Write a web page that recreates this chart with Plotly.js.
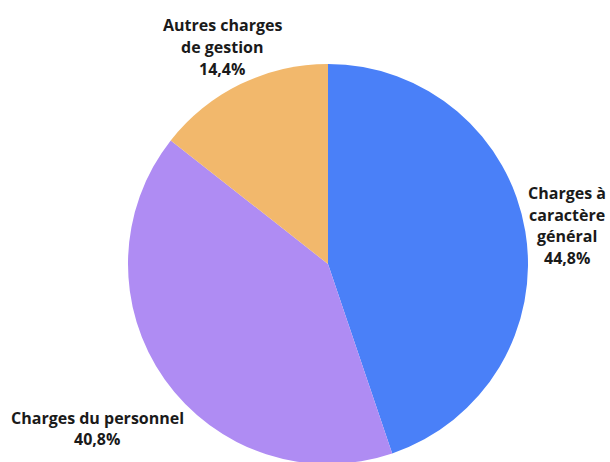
<!DOCTYPE html>
<html><head><meta charset="utf-8">
<script src="https://cdn.plot.ly/plotly-3.0.1.min.js"></script>
<style>html,body{margin:0;padding:0;overflow:hidden;background:#fff}</style>
</head><body><div id="chart"></div>
<script>
const categories = ["Charges à caractère général", "Charges du personnel", "Autres charges de gestion"];
const labelLines = [["Charges à", "caractère", "général"], ["Charges du personnel"], ["Autres charges", "de gestion"]];
const values = [44.8, 40.8, 14.4];
const pctText = ["44,8%", "40,8%", "14,4%"];
const colors = ["#4A80F8", "#AF8CF3", "#F2B86C"];

const W = 610, H = 464;
// label anchor (px): center x, center y of first line, line spacing
const labelPos = [[567, 193, 21.6], [97, 418, 21], [222, 24.5, 22.5]];

const annotations = [];
labelLines.forEach((lines, i) => {
  const all = lines.concat([pctText[i]]);
  const [cx, cy, dy] = labelPos[i];
  all.forEach((t, k) => {
    annotations.push({
      text: "<b>" + t + "</b>", showarrow: false,
      xref: "paper", yref: "paper",
      x: cx / W, y: 1 - (cy + k * dy) / H,
      xanchor: "center", yanchor: "middle",
      font: {family: "Open Sans", size: 16, color: "#1a1a1a"}
    });
  });
});

Plotly.newPlot("chart", [{
  type: "pie",
  labels: categories,
  values: values,
  textinfo: "none",
  hoverinfo: "label+percent",
  sort: false,
  direction: "clockwise",
  rotation: 0,
  marker: {colors: colors, line: {width: 0}},
  domain: {x: [128 / W, 528 / W], y: [0, 400 / H]}
}], {
  width: W, height: H,
  margin: {l: 0, r: 0, t: 0, b: 0},
  showlegend: false,
  paper_bgcolor: "#fff",
  font: {family: "Open Sans"},
  annotations: annotations
}, {displayModeBar: false, staticPlot: true});
</script></body></html>
